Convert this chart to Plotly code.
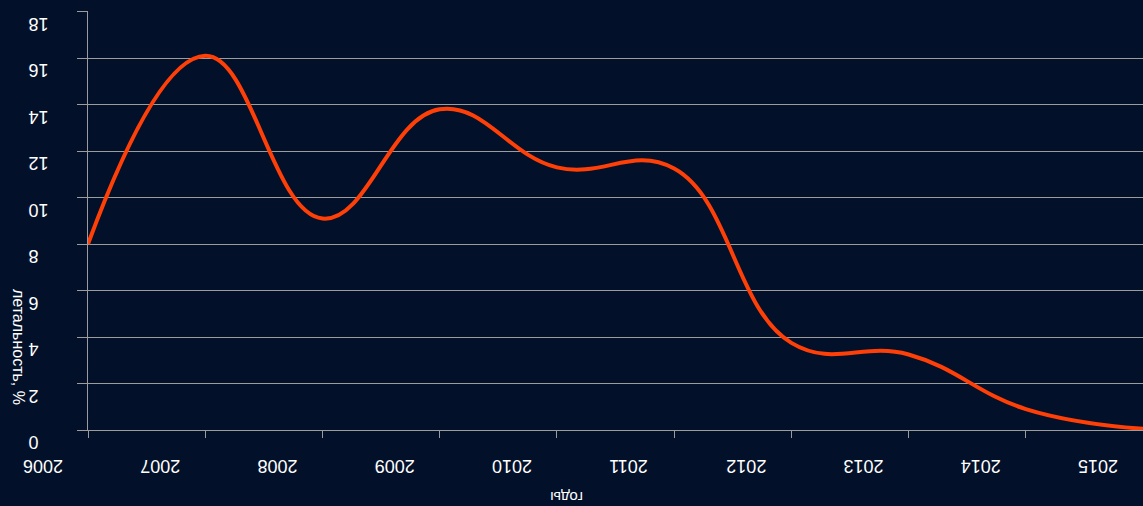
import plotly.graph_objects as go

# Annual case-fatality rate, %
years = [2006, 2007, 2008, 2009, 2010, 2011, 2012, 2013, 2014, 2015]
fatality = [8.0, 16.1, 9.1, 13.8, 11.3, 11.25, 3.75, 3.25, 0.9, 0.05]

x_ticks = [2006, 2007, 2008, 2009, 2010, 2011, 2012, 2013, 2014, 2015]
x_tick_text = ["2006", "2007", "2008", "2009", "2010", "2011", "2012", "2013", "2014", "2015"]
y_ticks = [0, 2, 4, 6, 8, 10, 12, 14, 16, 18]
y_tick_text = ["0", "2", "4", "6", "8", "10", "12", "14", "16", "18"]

BG = "#021129"
GRID = "#9c9c9c"
LINE = "#ff3f08"
FONT = "Liberation Sans"

W, H = 1143, 506
L, R, T, B = 88, 0, 11, 76
PW, PH = W - L - R, H - T - B


def px_to_paper(px, py):
    """Convert page pixel coordinates to paper coordinates of the plot area."""
    return (px - L) / PW, (H - B - py) / PH


fig = go.Figure()
fig.add_trace(go.Scatter(
    x=years, y=fatality, mode="lines",
    line=dict(color=LINE, width=4, shape="spline", smoothing=1.2),
    hoverinfo="skip", showlegend=False,
))

fig.update_layout(
    width=W, height=H,
    margin=dict(l=L, r=R, t=T, b=B),
    paper_bgcolor=BG, plot_bgcolor=BG,
    font=dict(family=FONT, color="#ffffff"),
    xaxis=dict(
        range=[2006, 2015],
        tickvals=x_ticks, ticktext=x_tick_text,
        tickangle=180, ticks="outside", ticklen=7, tickcolor=GRID,
        tickfont=dict(size=18, color="#ffffff", family=FONT),
        ticklabelshift=-65, ticklabelstandoff=18,
        showgrid=False, zeroline=False,
        showline=True, linecolor=GRID, linewidth=1,
    ),
    yaxis=dict(
        range=[0, 18.03],
        tickvals=y_ticks, ticktext=y_tick_text,
        tickangle=180, ticks="outside", ticklen=10, tickcolor=GRID,
        tickfont=dict(size=18, color="#ffffff", family=FONT),
        ticklabelshift=18, ticklabelstandoff=45,
        showgrid=True, gridcolor=GRID, gridwidth=1,
        zeroline=False,
        showline=True, linecolor=GRID, linewidth=1,
    ),
)

xt, yt = px_to_paper(567, 497)
xl, yl = px_to_paper(19, 347)
fig.add_annotation(text="годы", x=xt, y=yt, xref="paper", yref="paper",
                   xanchor="center", yanchor="middle", showarrow=False, textangle=180,
                   font=dict(size=15, color="#ffffff", family=FONT))
fig.add_annotation(text="летальность, %", x=xl, y=yl, xref="paper", yref="paper",
                   xanchor="center", yanchor="middle", showarrow=False, textangle=90,
                   font=dict(size=16, color="#ffffff", family=FONT))

fig.write_html("out.html")
